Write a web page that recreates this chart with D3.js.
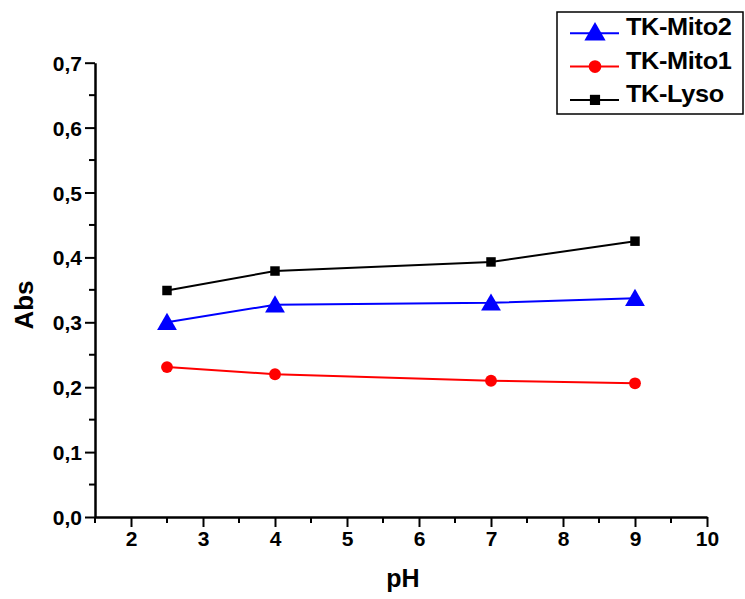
<!DOCTYPE html>
<html>
<head>
<meta charset="utf-8">
<script src="https://cdn.jsdelivr.net/npm/d3@7"></script>
<style>
  body { margin: 0; background: #fff; }
  svg { font-family: "Liberation Sans", Arial, sans-serif; }
</style>
</head>
<body>
<div id="chart"></div>
<script>
var phValues = [2.5, 4, 7, 9];
var mito2 = [0.300, 0.327, 0.330, 0.337];
var mito1 = [0.231, 0.220, 0.210, 0.206];
var lyso = [0.349, 0.379, 0.393, 0.425];
var xTicks = [2, 3, 4, 5, 6, 7, 8, 9, 10];
var yTicks = [0, 0.1, 0.2, 0.3, 0.4, 0.5, 0.6, 0.7];

var width = 745, height = 599;
var svg = d3.select("#chart").append("svg")
  .attr("width", width)
  .attr("height", height);

var x = d3.scaleLinear().domain([1.5, 10]).range([95, 707]);
var y = d3.scaleLinear().domain([0, 0.7]).range([517, 62.7]);

// minor ticks
var xMinor = d3.range(1.5, 10.01, 0.5).filter(function (v) { return v % 1 !== 0; });
var yMinor = d3.range(0.05, 0.7, 0.1);

svg.append("g").selectAll("line").data(xMinor).enter().append("line")
  .attr("x1", function (d) { return x(d); }).attr("x2", function (d) { return x(d); })
  .attr("y1", 517).attr("y2", 523)
  .attr("stroke", "#000").attr("stroke-width", 2);
svg.append("g").selectAll("line").data(yMinor).enter().append("line")
  .attr("y1", function (d) { return y(d); }).attr("y2", function (d) { return y(d); })
  .attr("x1", 95).attr("x2", 89)
  .attr("stroke", "#000").attr("stroke-width", 2);

var xAxis = svg.append("g")
  .attr("transform", "translate(0,517)")
  .call(d3.axisBottom(x).tickValues(xTicks).tickSize(10).tickPadding(4)
    .tickSizeOuter(0).tickFormat(d3.format("d")));
var yAxis = svg.append("g")
  .attr("transform", "translate(95,0)")
  .call(d3.axisLeft(y).tickValues(yTicks).tickSize(10).tickPadding(3)
    .tickSizeOuter(0).tickFormat(function (d) { return d.toFixed(1).replace(".", ","); }));

[xAxis, yAxis].forEach(function (ax) {
  ax.select(".domain").attr("stroke-width", 2.5);
  ax.selectAll(".tick line").attr("stroke-width", 2);
  ax.selectAll(".tick text")
    .attr("font-size", 21).attr("font-weight", "bold").attr("fill", "#000");
});
xAxis.selectAll(".tick text").attr("dy", "0.72em");
yAxis.selectAll(".tick text").attr("dy", "0.36em");

svg.append("text")
  .attr("x", 403).attr("y", 587)
  .attr("text-anchor", "middle")
  .attr("font-size", 25).attr("font-weight", "bold")
  .text("pH");
svg.append("text")
  .attr("transform", "translate(33,305) rotate(-90)")
  .attr("text-anchor", "middle")
  .attr("font-size", 26).attr("font-weight", "bold")
  .text("Abs");

var series = [
  { name: "TK-Mito2", values: mito2, color: "#0000ff", symbol: d3.symbolTriangle, size: 170 },
  { name: "TK-Mito1", values: mito1, color: "#ff0000", symbol: d3.symbolCircle, size: 110 },
  { name: "TK-Lyso", values: lyso, color: "#000000", symbol: d3.symbolSquare, size: 90 }
];

var line = d3.line()
  .x(function (d) { return x(d[0]); })
  .y(function (d) { return y(d[1]); });

series.slice().reverse().forEach(function (s) {
  var pts = phValues.map(function (p, i) { return [p, s.values[i]]; });
  svg.append("path")
    .attr("d", line(pts))
    .attr("fill", "none")
    .attr("stroke", s.color)
    .attr("stroke-width", 2);
  svg.append("g").selectAll("path").data(pts).enter().append("path")
    .attr("d", d3.symbol().type(s.symbol).size(s.size))
    .attr("transform", function (d) {
      var dy = s.symbol === d3.symbolTriangle ? 2 : 0;
      return "translate(" + x(d[0]) + "," + (y(d[1]) + dy) + ")";
    })
    .attr("fill", s.color);
});

// legend
var legend = svg.append("g");
legend.append("rect")
  .attr("x", 557).attr("y", 12).attr("width", 186).attr("height", 102)
  .attr("fill", "#fff").attr("stroke", "#000").attr("stroke-width", 1.5);
series.forEach(function (s, i) {
  var ly = 33.3 + i * 33.3;
  legend.append("line")
    .attr("x1", 570).attr("x2", 619).attr("y1", ly).attr("y2", ly)
    .attr("stroke", s.color).attr("stroke-width", 2);
  legend.append("path")
    .attr("d", d3.symbol().type(s.symbol).size(s.size * 1.15))
    .attr("transform", "translate(595," + (ly + (s.symbol === d3.symbolTriangle ? 1 : 0)) + ")")
    .attr("fill", s.color);
  legend.append("text")
    .attr("transform", "translate(626," + (ly + 2) + ") scale(1.1,1)")
    .attr("font-size", 23).attr("font-weight", "bold")
    .attr("letter-spacing", -0.3)
    .text(s.name);
});
</script>
</body>
</html>
